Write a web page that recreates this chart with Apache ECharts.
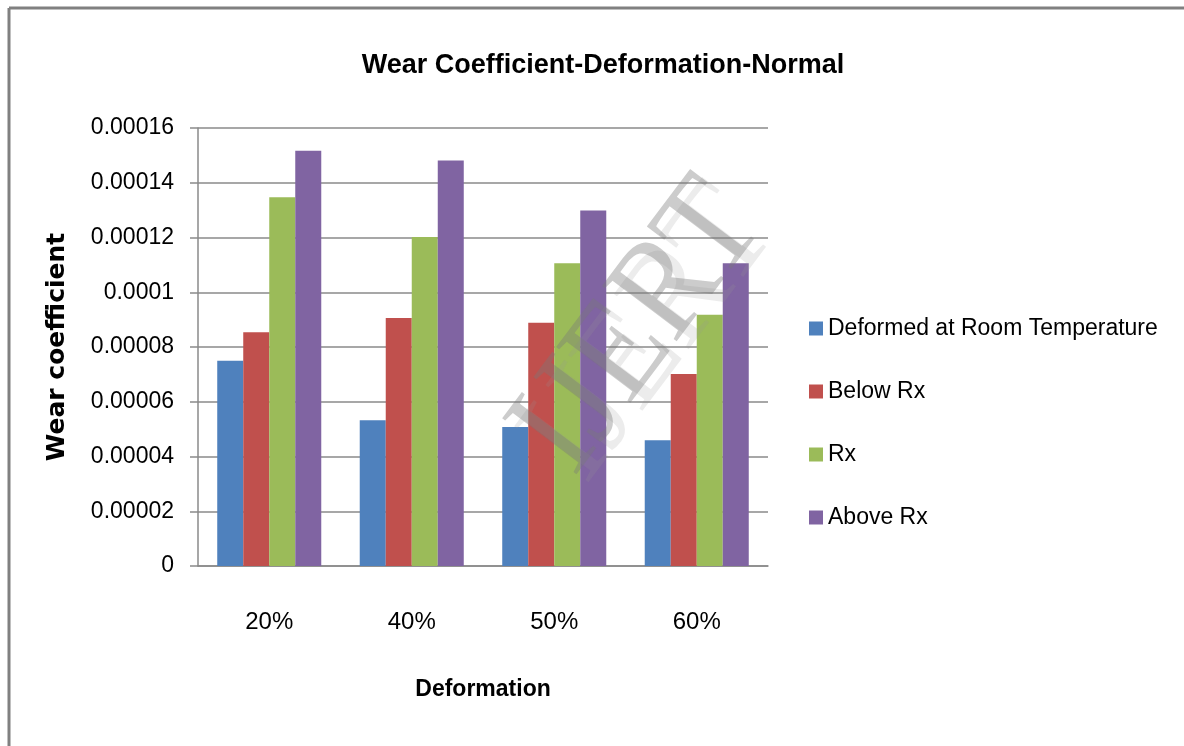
<!DOCTYPE html>
<html>
<head>
<meta charset="utf-8">
<script src="https://cdn.jsdelivr.net/npm/echarts@6/dist/echarts.min.js"></script>
<style>
  html, body { margin: 0; padding: 0; background: #fff; }
  #chart { width: 1184px; height: 746px; }
</style>
</head>
<body>
<div id="chart"></div>
<script>
// Wear coefficient by deformation level, grouped by processing condition
const categories = ['20%', '40%', '50%', '60%'];
const seriesNames = ['Deformed at Room Temperature', 'Below Rx', 'Rx', 'Above Rx'];
const roomTemp = [0.0000750, 0.0000532, 0.0000508, 0.0000459];
const belowRx  = [0.0000854, 0.0000906, 0.0000889, 0.0000701];
const rx       = [0.0001347, 0.0001202, 0.0001106, 0.0000918];
const aboveRx  = [0.0001517, 0.0001481, 0.0001299, 0.0001106];
const yMin = 0, yMax = 0.00016, yStep = 0.00002;

const colors = ['#4F81BD', '#C0504D', '#9BBB59', '#8064A2'];
const sans = '"Liberation Sans", Arial, sans-serif';
const gridGray = '#8a8a8a';

const chart = echarts.init(document.getElementById('chart'), null, { renderer: 'canvas' });

const values = [roomTemp, belowRx, rx, aboveRx];

chart.setOption({
  backgroundColor: '#ffffff',
  animation: false,
  color: colors,
  title: {
    text: 'Wear Coefficient-Deformation-Normal',
    left: 598,
    textAlign: 'center',
    top: 47,
    textStyle: { fontFamily: sans, fontWeight: 'bold', fontSize: 27, color: '#000' }
  },
  legend: {
    orient: 'vertical',
    left: 804,
    top: 312,
    itemWidth: 14,
    itemHeight: 14,
    itemGap: 40,
    icon: 'rect',
    textStyle: { fontFamily: sans, fontSize: 23, color: '#000', padding: [0, 0, 0, 0] },
    data: seriesNames
  },
  grid: { left: 198, right: 416, top: 128, bottom: 180, containLabel: false },
  xAxis: {
    type: 'category',
    data: categories,
    name: 'Deformation',
    nameLocation: 'middle',
    nameGap: 112,
    nameTextStyle: { fontFamily: sans, fontWeight: 'bold', fontSize: 23, color: '#000' },
    axisLine: { show: true, lineStyle: { color: gridGray, width: 1.5 } },
    axisTick: { show: false },
    axisLabel: { fontFamily: sans, fontSize: 24, color: '#000', margin: 44 }
  },
  yAxis: {
    type: 'value',
    min: yMin,
    max: yMax,
    interval: yStep,
    name: 'Wear coefficient',
    nameLocation: 'middle',
    nameGap: 128,
    nameTextStyle: { fontFamily: '"DejaVu Sans", sans-serif', fontWeight: 'bold', fontSize: 25, color: '#000' },
    axisLine: { show: true, lineStyle: { color: gridGray, width: 1.5 } },
    axisTick: { show: true, inside: false, length: 8, lineStyle: { color: gridGray, width: 1.5 } },
    splitLine: { show: true, lineStyle: { color: gridGray, width: 1.5 } },
    axisLabel: {
      fontFamily: sans, fontSize: 23, color: '#000', margin: 24,
      formatter: v => String(parseFloat(v.toFixed(5)))
    }
  },
  series: seriesNames.map((name, i) => ({
    name: name,
    type: 'bar',
    data: values[i],
    barGap: '0%',
    barCategoryGap: '27%',
    itemStyle: { color: colors[i] }
  })),
  graphic: [
    // chart frame edges
    { type: 'line', shape: { x1: 9, y1: 8, x2: 1184, y2: 8 }, style: { stroke: '#808080', lineWidth: 3 }, z: 100 },
    { type: 'line', shape: { x1: 9, y1: 8, x2: 9, y2: 746 }, style: { stroke: '#808080', lineWidth: 3 }, z: 100 },
    // publisher watermark (soft offset copy + main copy)
    {
      type: 'text',
      x: 652, y: 336,
      rotation: 53 * Math.PI / 180,
      scaleX: 0.88,
      z: 49,
      style: {
        text: 'IJERT',
        font: '142px "Liberation Serif", "DejaVu Serif", serif',
        fill: 'rgba(150,150,150,0.18)',
        align: 'center',
        verticalAlign: 'middle'
      }
    },
    {
      type: 'text',
      x: 640, y: 328,
      rotation: 53 * Math.PI / 180,
      scaleX: 0.88,
      z: 50,
      style: {
        text: 'IJERT',
        font: '142px "Liberation Serif", "DejaVu Serif", serif',
        fill: 'rgba(120,120,120,0.38)',
        align: 'center',
        verticalAlign: 'middle'
      }
    }
  ]
});
</script>
</body>
</html>
